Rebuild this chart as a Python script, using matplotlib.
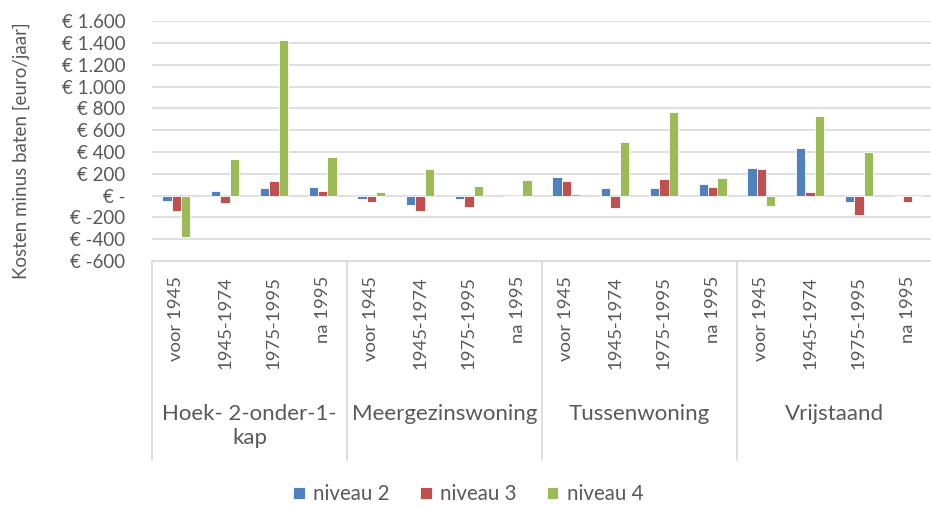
import numpy as np
import matplotlib.pyplot as plt
from matplotlib.transforms import blended_transform_factory

plt.rcParams['font.family'] = ['Lato', 'DejaVu Sans']

groups = ['Hoek- 2-onder-1-\nkap', 'Meergezinswoning', 'Tussenwoning', 'Vrijstaand']
periods = ['voor 1945', '1945-1974', '1975-1995', 'na 1995']

niveau2 = [-45, 45, 68, 77,
           -35, -85, -35, 0,
           175, 68, 68, 105,
           258, 433, -55, 0]
niveau3 = [-140, -70, 138, 43,
           -60, -140, -105, 0,
           138, -115, 150, 77,
           243, 30, -175, -58]
niveau4 = [-380, 338, 1430, 350,
           30, 243, 92, 148,
           18, 492, 765, 160,
           -92, 728, 405, 0]

series = [('niveau 2', niveau2, '#4F81BD'),
          ('niveau 3', niveau3, '#C0504D'),
          ('niveau 4', niveau4, '#9BBB59')]

yticks = list(range(-600, 1601, 200))


def euro(v):
    if v == 0:
        return '€ -'
    s = f'{abs(v):,}'.replace(',', '.')
    return f'€ -{s}' if v < 0 else f'€ {s}'


fig = plt.figure(figsize=(9.31, 5.08), dpi=100)
ax = fig.add_axes([152 / 931, 1 - 261 / 508, 780 / 931, (261 - 21.3) / 508])

n = len(groups) * len(periods)
x = np.arange(n)
w = 0.19
for i, (name, vals, col) in enumerate(series):
    ax.bar(x + (i - 1) * w, vals, w, color=col, edgecolor='white', linewidth=0.6,
           label=name, zorder=3)

ax.set_xlim(-0.5, n - 0.5)
ax.set_ylim(-600, 1600)
ax.set_yticks(yticks)
ax.set_yticklabels([euro(v) for v in yticks])
ax.yaxis.grid(True, color='#D9D9D9', linewidth=1.2, zorder=0)
ax.tick_params(axis='y', length=0, pad=19, labelsize=13.5, labelcolor='#595959')
ax.set_xticks([])
for sp in ax.spines.values():
    sp.set_visible(False)

ax.set_ylabel('Kosten minus baten [euro/jaar]', fontsize=13.5, color='#595959')
ax.yaxis.set_label_coords(-0.156, 0.46)

# category axis: period labels, group labels and separators
trans = blended_transform_factory(ax.transData, ax.transAxes)
h_ax = (261 - 21.3) / 508


def fig_y_to_axes(py):
    return (1 - py / 508 - (1 - 261 / 508)) / h_ax


for k in range(n):
    ax.text(x[k], fig_y_to_axes(276), periods[k % len(periods)], rotation=90,
            ha='center', va='top', fontsize=13.3, color='#595959', transform=trans)

for g, name in enumerate(groups):
    cx = g * len(periods) + (len(periods) - 1) / 2
    ax.text(cx, fig_y_to_axes(404), name, ha='center', va='top', fontsize=16,
            color='#595959', linespacing=1.25, transform=trans)

line_col = '#D9D9D9'
ax.plot([-0.5, n - 0.5], [0, 0], color=line_col, lw=1.2, transform=trans, clip_on=False)
for g in range(len(groups) + 1):
    xb = g * len(periods) - 0.5
    ax.plot([xb, xb], [0, fig_y_to_axes(460)], color=line_col, lw=1.2,
            transform=trans, clip_on=False)

fig.legend(loc='center', bbox_to_anchor=(0.503, 1 - 494 / 508), ncol=3, frameon=False,
           fontsize=14.8, handlelength=0.55, handleheight=0.55, columnspacing=1.5,
           handletextpad=0.4, labelcolor='#595959')

fig.savefig('out.png', dpi=100)
